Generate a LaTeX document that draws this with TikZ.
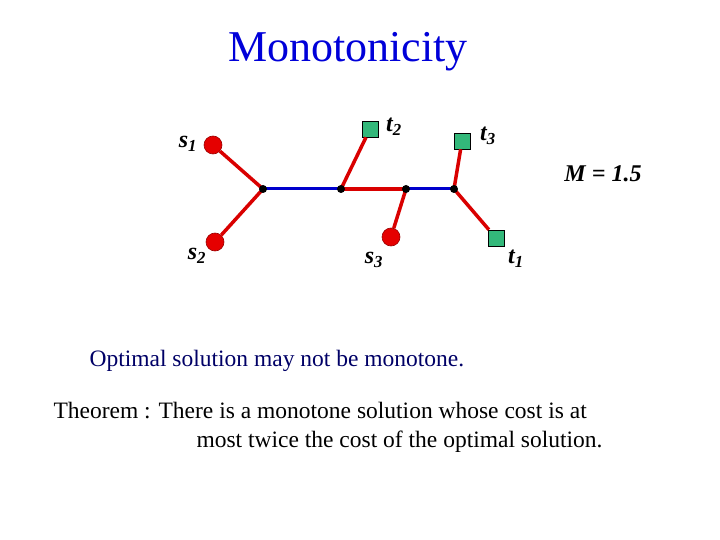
\documentclass[tikz,border=0pt]{standalone}
\usepackage{fontspec}
\setmainfont{Liberation Serif}
\begin{document}
\begin{tikzpicture}[x=1pt,y=-1pt,
  src/.style={circle,fill=red!90!black,draw=red!60!black,line width=0.6pt,minimum size=18pt,inner sep=0pt},
  snk/.style={rectangle,fill=teal!70!green!80,draw=black,line width=0.6pt,minimum size=16pt,inner sep=0pt},
  jn/.style={circle,fill=black,minimum size=8pt,inner sep=0pt},
  redl/.style={draw=red!85!black,line width=3.5pt},
  bluel/.style={draw=blue!80!black,line width=3pt},
  lab/.style={font=\fontsize{24}{26}\selectfont\itshape\bfseries}]
\useasboundingbox (0,0) rectangle (720,540);
\node[font=\fontsize{44}{48}\selectfont,text=blue!85!black] (title) at (348,52) {Monotonicity};
\coordinate (j1) at (263,189);
\coordinate (j2) at (341,189);
\coordinate (j3) at (406,189);
\coordinate (j4) at (454,189);
\node[src] (s1) at (213,145) {};
\node[src] (s2) at (215,242) {};
\node[src] (s3) at (391,237) {};
\node[snk] (t2) at (370,129) {};
\node[snk] (t3) at (462,141) {};
\node[snk] (t1) at (496,238) {};
\draw[bluel] (j1) -- (j2);
\draw[redl] (j2) -- (j3);
\draw[bluel] (j3) -- (j4);
\draw[redl] (s1) -- (j1);
\draw[redl] (s2) -- (j1);
\draw[redl] (t2) -- (j2);
\draw[redl] (s3) -- (j3);
\draw[redl] (t3) -- (j4);
\draw[redl] (t1) -- (j4);
\foreach \j in {j1,j2,j3,j4} \node[jn] at (\j) {};
\node[lab] (ls1) at (188,144) {s\textsubscript{1}};
\node[lab] (ls2) at (197,256) {s\textsubscript{2}};
\node[lab] (ls3) at (374,260) {s\textsubscript{3}};
\node[lab] (lt2) at (394,127) {t\textsubscript{2}};
\node[lab] (lt3) at (488,136) {t\textsubscript{3}};
\node[lab] (lt1) at (516,259) {t\textsubscript{1}};
\node[lab] (M) at (603,174) {M = 1.5};
\node[anchor=base west,font=\fontsize{23.5}{26}\selectfont,text=blue!40!black] (opt) at (86,366) {Optimal solution may not be monotone.};
\node[anchor=base west,font=\fontsize{23.5}{26}\selectfont] (th1) at (50,418) {Theorem : There is a monotone solution whose cost is at};
\node[anchor=base west,font=\fontsize{23.5}{26}\selectfont] (th2) at (193,447) {most twice the cost of the optimal solution.};
\end{tikzpicture}
\end{document}
